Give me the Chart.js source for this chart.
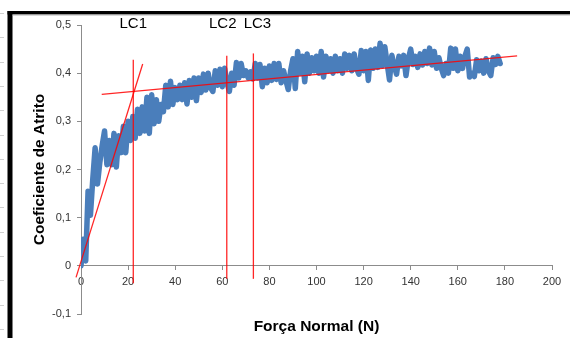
<!DOCTYPE html>
<html>
<head>
<meta charset="utf-8">
<script src="https://cdn.jsdelivr.net/npm/chart.js@4.4.0/dist/chart.umd.min.js"></script>
<style>
  body { margin: 0; background: #fff; }
  canvas { display: block; }
</style>
</head>
<body>
<canvas id="chart" width="570" height="338"></canvas>
<script>
// coeficiente de atrito, one sample per newton
const coefAtrito = [
  0.00, 0.055, 0.01, 0.155, 0.105, 0.18, 0.245, 0.17, 0.215, 0.25,
  0.28, 0.21, 0.26, 0.21, 0.275, 0.205, 0.27, 0.235, 0.29, 0.235,
  0.30, 0.26, 0.31, 0.265, 0.325, 0.275, 0.33, 0.28, 0.35, 0.275,
  0.355, 0.295, 0.345, 0.30, 0.335, 0.32, 0.375, 0.33, 0.383, 0.335,
  0.37, 0.345, 0.375, 0.345, 0.38, 0.336, 0.385, 0.35, 0.39, 0.343,
  0.39, 0.36, 0.398, 0.365, 0.40, 0.37, 0.362, 0.405, 0.375, 0.408,
  0.372, 0.41, 0.38, 0.362, 0.40, 0.375, 0.422, 0.39, 0.42, 0.395,
  0.405, 0.39, 0.403, 0.388, 0.42, 0.39, 0.418, 0.372, 0.41, 0.38,
  0.415, 0.385, 0.42, 0.387, 0.42, 0.38, 0.405, 0.385, 0.366, 0.405,
  0.43, 0.368, 0.445, 0.40, 0.435, 0.382, 0.44, 0.40, 0.432, 0.405,
  0.435, 0.40, 0.445, 0.392, 0.435, 0.405, 0.43, 0.40, 0.435, 0.405,
  0.43, 0.40, 0.44, 0.41, 0.437, 0.405, 0.44, 0.41, 0.398, 0.447,
  0.405, 0.445, 0.385, 0.448, 0.41, 0.45, 0.412, 0.462, 0.415, 0.455,
  0.42, 0.386, 0.437, 0.415, 0.398, 0.435, 0.415, 0.437, 0.395, 0.43,
  0.45, 0.418, 0.435, 0.412, 0.44, 0.417, 0.445, 0.42, 0.452, 0.417,
  0.445, 0.41, 0.432, 0.41, 0.395, 0.42, 0.40, 0.452, 0.41, 0.45,
  0.405, 0.435, 0.41, 0.435, 0.45, 0.392, 0.40, 0.393, 0.428, 0.405,
  0.425, 0.40, 0.43, 0.405, 0.395, 0.432, 0.418, 0.435, 0.42
];
const forcaStep = 1;

// vertical markers
const lcNames = ['LC1', 'LC2', 'LC3'];
const lcForce = [22.2, 61.9, 73.2];
const lcTop = [0.428, 0.436, 0.441];
const lcBottom = [-0.036, -0.027, -0.027];

// tangent at the start and trend of the plateau
const tangentX = [-2.1, 26.2];
const tangentY = [-0.024, 0.419];
const trendX = [8.8, 185.2];
const trendY = [0.356, 0.436];

const xTicks = [0, 20, 40, 60, 80, 100, 120, 140, 160, 180, 200];
const yTicks = [-0.1, 0, 0.1, 0.2, 0.3, 0.4, 0.5];
const yTickLabels = ['-0,1', '0', '0,1', '0,2', '0,3', '0,4', '0,5'];

const font = "'Liberation Sans', Arial, sans-serif";
const axisGray = '#8c8c8c';
const red = 'rgba(255, 0, 0, 0.85)';

function redLine(xs, ys) {
  return {
    data: xs.map((x, i) => ({ x: x, y: ys[i] })),
    borderColor: red,
    borderWidth: 1.3,
    pointRadius: 0,
    clip: false,
    order: 1
  };
}

const datasets = [{
  data: coefAtrito.map((y, i) => ({ x: i * forcaStep, y: y })),
  borderColor: '#4a7ebb',
  borderWidth: 5.5,
  borderJoinStyle: 'round',
  borderCapStyle: 'round',
  pointRadius: 0,
  order: 2
}];
lcForce.forEach((f, i) => datasets.push(redLine([f, f], [lcBottom[i], lcTop[i]])));
datasets.push(redLine(tangentX, tangentY));
datasets.push(redLine(trendX, trendY));

const decor = {
  id: 'decor',
  beforeDraw(chart) {
    const ctx = chart.ctx;
    ctx.save();
    ctx.fillStyle = '#fff';
    ctx.fillRect(0, 0, chart.width, chart.height);
    // faint ruler marks left of the frame
    ctx.fillStyle = '#d0d0d0';
    for (let y = 13; y < chart.height; y += 24.3) ctx.fillRect(0, Math.round(y), 4, 1);
    ctx.fillStyle = '#000';
    ctx.fillRect(7.5, 11, 5, chart.height - 11);
    ctx.fillRect(7.5, 11, chart.width - 7.5, 3.5);
    ctx.fillStyle = '#b4b4b4';
    ctx.fillRect(12.5, 14.5, chart.width - 12.5, 1);
    ctx.restore();
  },
  afterDraw(chart) {
    const ctx = chart.ctx;
    const xs = chart.scales.x;
    const nudge = [0, -4, 4];
    ctx.save();
    ctx.font = '15px ' + font;
    ctx.fillStyle = '#000';
    ctx.textAlign = 'center';
    ctx.textBaseline = 'middle';
    lcNames.forEach((name, i) => {
      ctx.fillText(name, xs.getPixelForValue(lcForce[i]) + nudge[i], chart.chartArea.top - 1.5);
    });
    ctx.restore();
  }
};

new Chart(document.getElementById('chart'), {
  type: 'line',
  data: { datasets: datasets },
  plugins: [decor],
  options: {
    responsive: false,
    devicePixelRatio: 1,
    animation: false,
    layout: { autoPadding: false, padding: { left: 26, right: 18, top: 25, bottom: 24 } },
    plugins: { legend: { display: false }, tooltip: { enabled: false } },
    scales: {
      x: {
        type: 'linear',
        min: 0,
        max: 200,
        position: { y: 0 },
        afterBuildTicks: s => { s.ticks = xTicks.map(v => ({ value: v })); },
        afterFit: s => { s.height = 70; },
        grid: { drawOnChartArea: false, tickLength: 4, color: axisGray },
        border: { color: axisGray },
        ticks: { color: '#333', font: { family: font, size: 11 }, padding: 6, maxRotation: 0, autoSkip: false },
        title: { display: true, text: 'Força Normal (N)', color: '#000', padding: 0,
                 font: { family: font, size: 15.5, weight: 'bold' } }
      },
      y: {
        type: 'linear',
        min: -0.1,
        max: 0.5,
        afterBuildTicks: s => { s.ticks = yTicks.map(v => ({ value: v })); },
        afterFit: s => { s.width = 55; },
        grid: { drawOnChartArea: false, tickLength: 4, color: axisGray },
        border: { color: axisGray },
        ticks: {
          color: '#333',
          font: { family: font, size: 11 },
          padding: 6,
          callback: v => {
            const i = yTicks.findIndex(t => Math.abs(t - v) < 1e-6);
            return i >= 0 ? yTickLabels[i] : '';
          }
        },
        title: { display: true, text: 'Coeficiente de Atrito', color: '#000', padding: { top: 4, bottom: 0 },
                 font: { family: font, size: 15.5, weight: 'bold' } }
      }
    }
  }
});
</script>
</body>
</html>
